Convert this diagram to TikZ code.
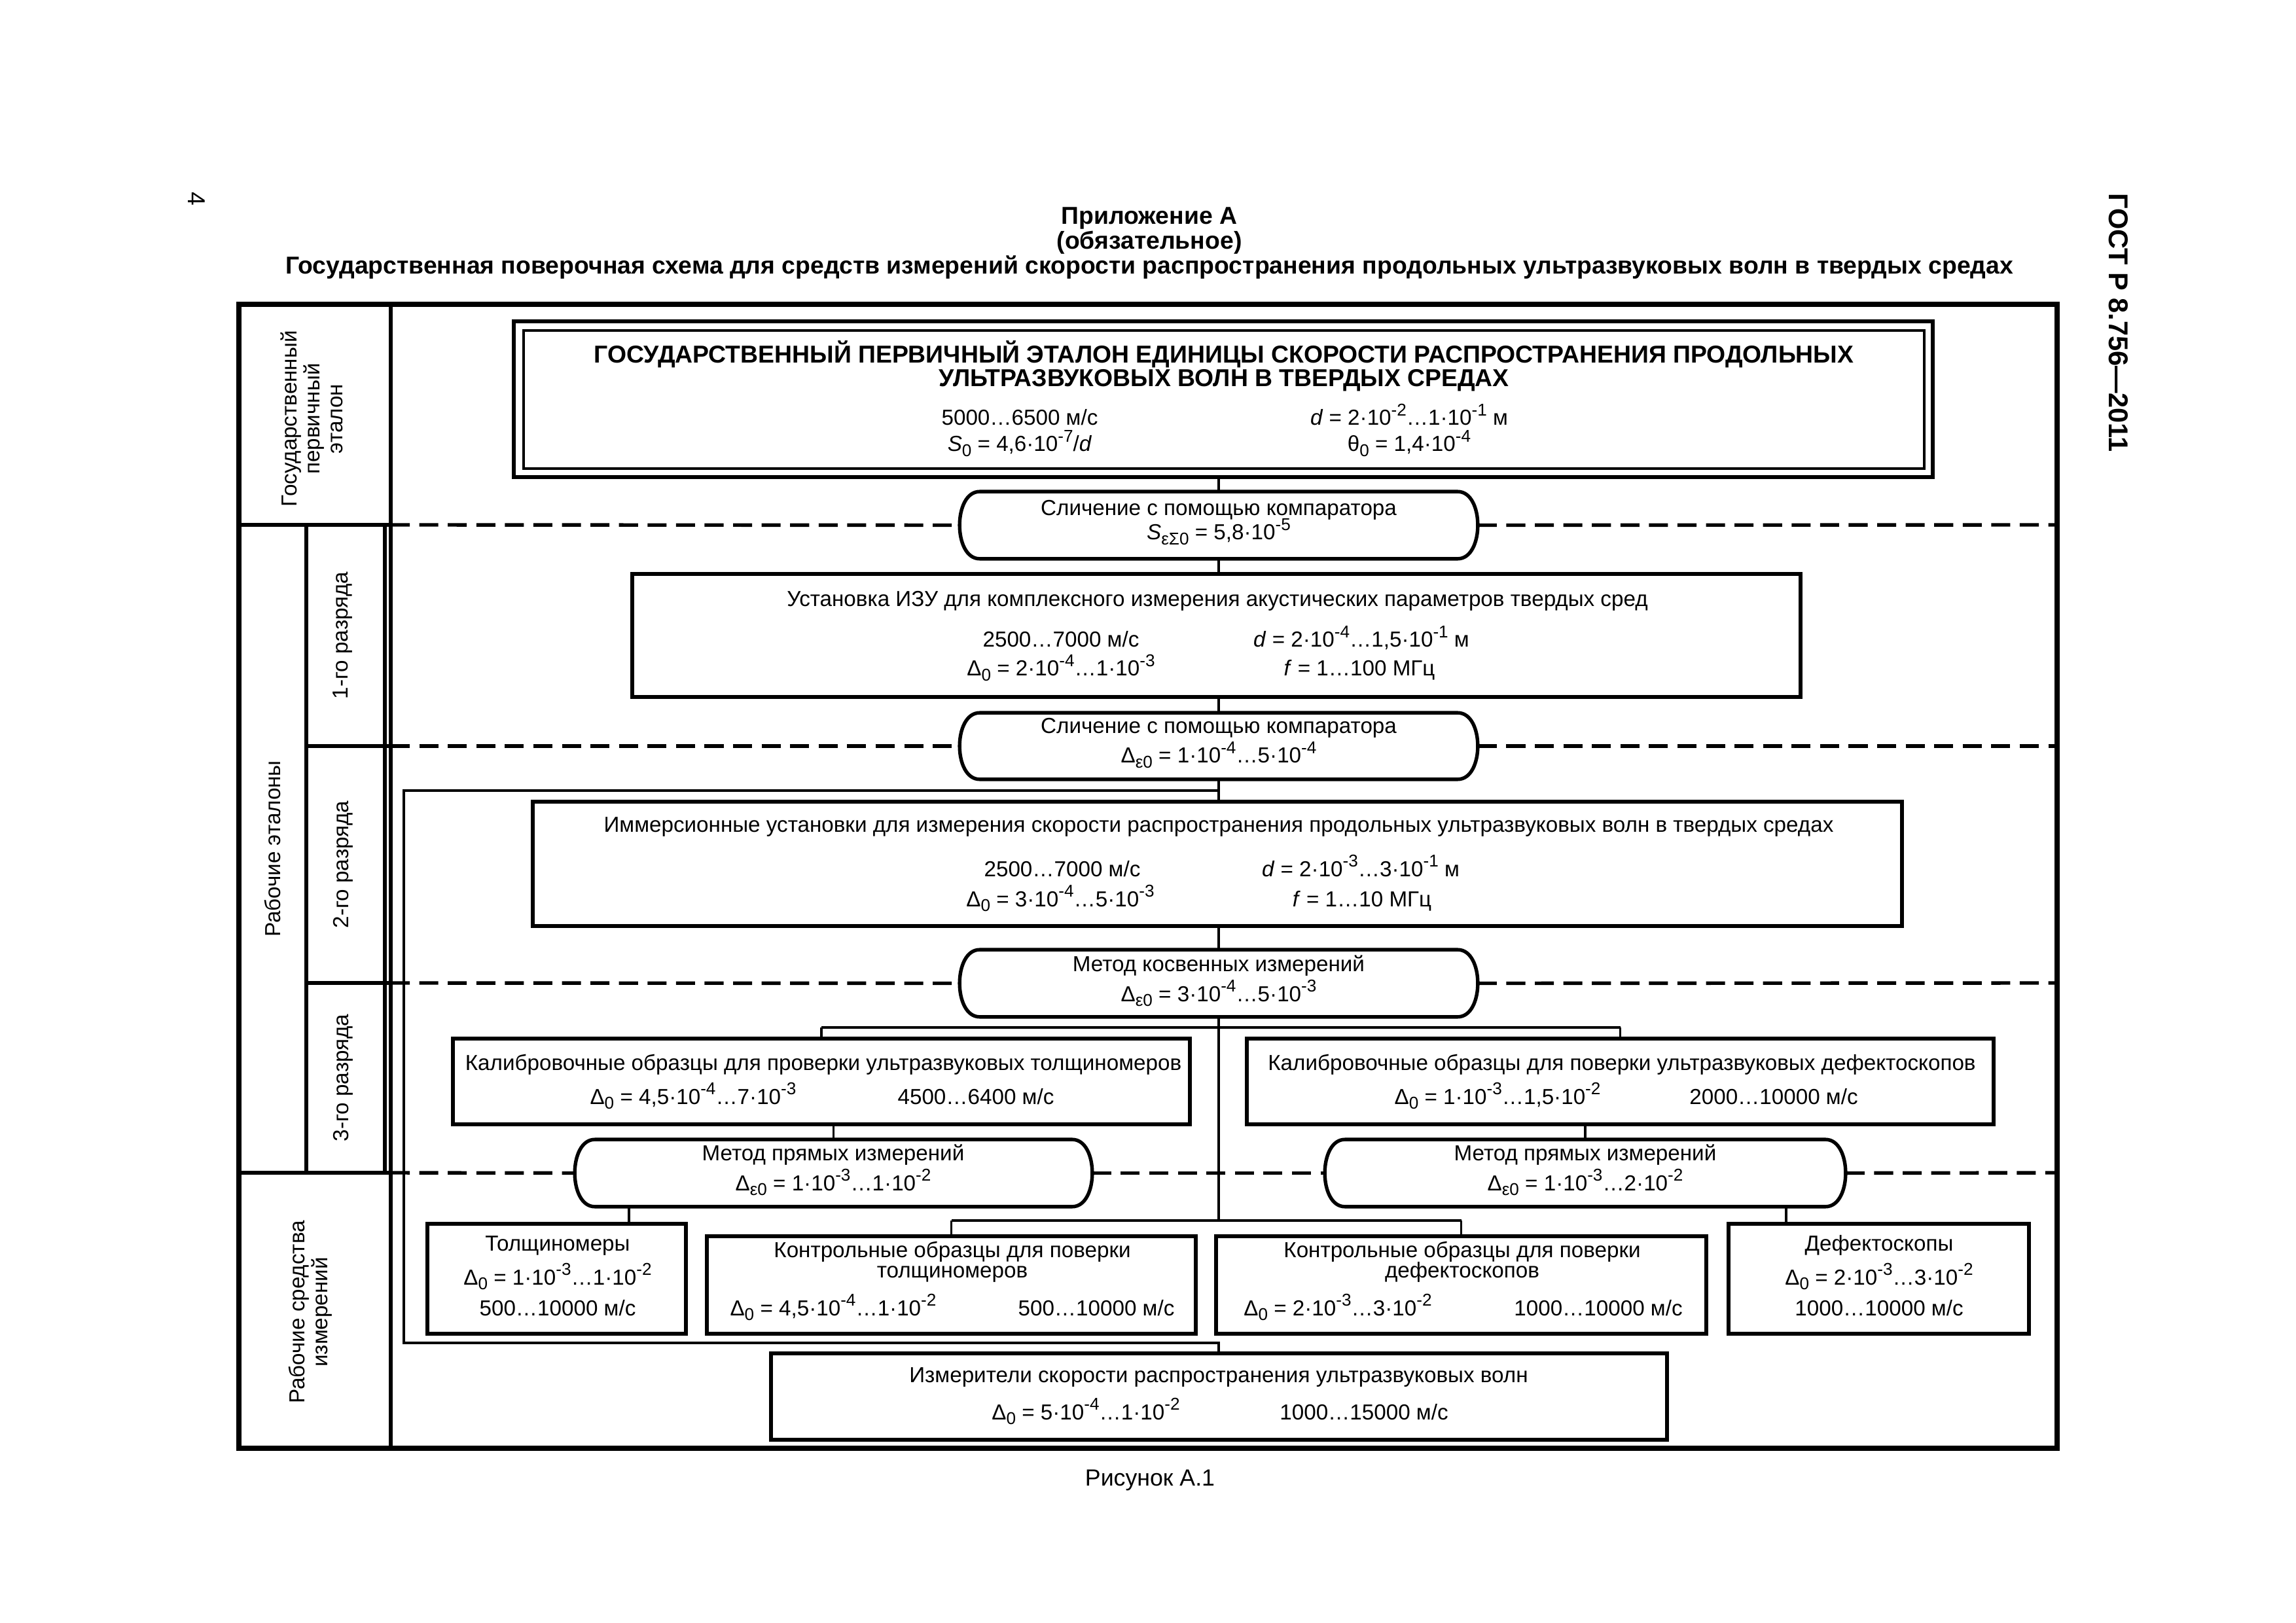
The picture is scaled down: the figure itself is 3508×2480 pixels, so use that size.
\documentclass[tikz,border=0pt]{standalone}
\usepackage{fontspec}
\setmainfont{Liberation Sans}
\usetikzlibrary{calc,fit}
\newcommand\myfn{\fontsize{8}{9.6}\selectfont}
\newcommand\myfb{\fontsize{9}{9}\selectfont\bfseries}
\newcommand\mysup[1]{\raisebox{3.4pt}{\fontsize{6.3}{6}\selectfont #1}}
\newcommand\mysub[1]{\raisebox{-1.7pt}{\fontsize{6.3}{6}\selectfont #1}}
\newcommand\capsuleoutline[1]{%
  \draw[boxline] ($(#1.north west)+(0.26cm,0)$) -- ($(#1.north east)+(-0.26cm,0)$)
   .. controls ($(#1.north east)+(0.087cm,0)$) and ($(#1.south east)+(0.087cm,0)$) .. ($(#1.south east)+(-0.26cm,0)$)
   -- ($(#1.south west)+(0.26cm,0)$)
   .. controls ($(#1.south west)+(-0.087cm,0)$) and ($(#1.north west)+(-0.087cm,0)$) .. cycle;}
\begin{document}
\begin{tikzpicture}[x=0.0846636mm, y=-0.0846636mm,
  frameline/.style={line width=1.8pt},
  gridline/.style={line width=1.5pt},
  boxline/.style={line width=1.3pt},
  innerline/.style={line width=1.0pt},
  conn/.style={line width=0.85pt},
  dashline/.style={line width=1.3pt, dash pattern=on 7pt off 3.5pt},
  box/.style={draw, boxline, inner sep=0pt},
  ibox/.style={draw, innerline, inner sep=0pt},
  area/.style={inner sep=0pt},
  t/.style={inner sep=0pt, anchor=base, font=\myfn},
  tb/.style={inner sep=0pt, anchor=base, font=\myfb},
  lbl/.style={inner sep=0pt, font=\fontsize{8}{8.4}\selectfont, align=center, rotate=90},
]
\useasboundingbox (0,0) rectangle (3508,2480);

% header
\node[tb] (h1) at (1756,343) {Приложение А};
\node[tb] (h2) at (1756,381) {(обязательное)};
\node[tb] (h3) at (1756,419) {Государственная поверочная схема для средств измерений скорости распространения продольных ультразвуковых волн в твердых средах};
\node[inner sep=0pt, font=\fontsize{9}{9}\selectfont, rotate=-90] (pg) at (300,304) {4};
\node[inner sep=0pt, font=\fontsize{10}{10}\selectfont\bfseries, rotate=-90] (gost) at (3237,493) {ГОСТ Р 8.756—2011};
\node[inner sep=0pt, anchor=base, font=\fontsize{8.6}{9}\selectfont] (fig) at (1757,2270) {Рисунок А.1};

% frame and left column
\draw[frameline] (365,465) rectangle (3143,2213);
\draw[gridline] (597,465) -- (597,2213);
\draw[gridline] (365,802) -- (597,802);
\draw[gridline] (365,1792) -- (597,1792);
\draw[gridline] (468,802) -- (468,1792);
\draw[gridline] (588,802) -- (588,1792);
\draw[gridline] (468,1140) -- (597,1140);
\draw[gridline] (468,1502) -- (597,1502);

\node[lbl] (lgos) at (476,640) {Государственный\\первичный\\эталон};
\node[lbl] (lrab) at (416,1297) {Рабочие эталоны};
\node[lbl] (l1) at (524,971) {1-го разряда};
\node[lbl] (l2) at (524,1321) {2-го разряда};
\node[lbl] (l3) at (524,1647) {3-го разряда};
\node[lbl] (lsi) at (474,2005) {Рабочие средства\\измерений};

% primary standard
\node[box, fit={(785,491) (2953,729)}] (gpe) {};
\node[ibox, fit={(800,505) (2940,716)}] (gpein) {};
\node[tb] (gpe1) at (1870,555) {ГОСУДАРСТВЕННЫЙ ПЕРВИЧНЫЙ ЭТАЛОН ЕДИНИЦЫ СКОРОСТИ РАСПРОСТРАНЕНИЯ ПРОДОЛЬНЫХ};
\node[tb] (gpe2) at (1870,591) {УЛЬТРАЗВУКОВЫХ ВОЛН В ТВЕРДЫХ СРЕДАХ};
\node[t] (gpe3) at (1558,650) {5000…6500 м/с};
\node[t] (gpe4) at (2153,650) {\textit{d} = 2·10\mysup{-2}…1·10\mysup{-1} м};
\node[t] (gpe5) at (1558,690) {\textit{S}\mysub{0} = 4,6·10\mysup{-7}/\textit{d}};
\node[t] (gpe6) at (2153,690) {θ\mysub{0} = 1,4·10\mysup{-4}};

% comparator 1
\node[area, fit={(1467,752) (2257,853)}] (c1) {};
\capsuleoutline{c1}
\node[t] (c1a) at (1862,788) {Сличение с помощью компаратора};
\node[t] (c1b) at (1862,825) {\textit{S}\mysub{εΣ0} = 5,8·10\mysup{-5}};

% 1st rank
\node[box, fit={(966,877) (2751,1065)}] (b2) {};
\node[t] (b2a) at (1860,927) {Установка ИЗУ для комплексного измерения акустических параметров твердых сред};
\node[t] (b2b) at (1621,989) {2500…7000 м/с};
\node[t] (b2c) at (2080,989) {\textit{d} = 2·10\mysup{-4}…1,5·10\mysup{-1} м};
\node[t] (b2d) at (1621,1033) {Δ\mysub{0} = 2·10\mysup{-4}…1·10\mysup{-3}};
\node[t] (b2e) at (2077,1033) {\textit{f} = 1…100 МГц};

% comparator 2
\node[area, fit={(1467,1090) (2257,1190)}] (c2) {};
\capsuleoutline{c2}
\node[t] (c2a) at (1862,1121) {Сличение с помощью компаратора};
\node[t] (c2b) at (1862,1166) {Δ\mysub{ε0} = 1·10\mysup{-4}…5·10\mysup{-4}};

% 2nd rank
\node[box, fit={(814,1225) (2906,1415)}] (b3) {};
\node[t] (b3a) at (1862,1272) {Иммерсионные установки для измерения скорости распространения продольных ультразвуковых волн в твердых средах};
\node[t] (b3b) at (1623,1339) {2500…7000 м/с};
\node[t] (b3c) at (2079,1339) {\textit{d} = 2·10\mysup{-3}…3·10\mysup{-1} м};
\node[t] (b3d) at (1620,1385) {Δ\mysub{0} = 3·10\mysup{-4}…5·10\mysup{-3}};
\node[t] (b3e) at (2081,1385) {\textit{f} = 1…10 МГц};

% indirect method
\node[area, fit={(1467,1452) (2257,1553)}] (m1) {};
\capsuleoutline{m1}
\node[t] (m1a) at (1862,1484) {Метод косвенных измерений};
\node[t] (m1b) at (1862,1530) {Δ\mysub{ε0} = 3·10\mysup{-4}…5·10\mysup{-3}};

% 3rd rank
\node[box, fit={(692,1587) (1818,1718)}] (b4L) {};
\node[t] (b4La) at (1258,1635) {Калибровочные образцы для проверки ультразвуковых толщиномеров};
\node[t] (b4Lb) at (1059,1687) {Δ\mysub{0} = 4,5·10\mysup{-4}…7·10\mysup{-3}};
\node[t] (b4Lc) at (1491,1687) {4500…6400 м/с};
\node[box, fit={(1905,1587) (3046,1718)}] (b4R) {};
\node[t] (b4Ra) at (2478,1635) {Калибровочные образцы для поверки ультразвуковых дефектоскопов};
\node[t] (b4Rb) at (2288,1687) {Δ\mysub{0} = 1·10\mysup{-3}…1,5·10\mysup{-2}};
\node[t] (b4Rc) at (2710,1687) {2000…10000 м/с};

% direct methods
\node[area, fit={(879,1742) (1668,1843)}] (m2L) {};
\capsuleoutline{m2L}
\node[t] (m2La) at (1273,1773) {Метод прямых измерений};
\node[t] (m2Lb) at (1273,1819) {Δ\mysub{ε0} = 1·10\mysup{-3}…1·10\mysup{-2}};
\node[area, fit={(2025,1742) (2819,1843)}] (m2R) {};
\capsuleoutline{m2R}
\node[t] (m2Ra) at (2422,1773) {Метод прямых измерений};
\node[t] (m2Rb) at (2422,1819) {Δ\mysub{ε0} = 1·10\mysup{-3}…2·10\mysup{-2}};

% working instruments
\node[box, fit={(653,1870) (1048,2038)}] (tol) {};
\node[t] (tola) at (852,1911) {Толщиномеры};
\node[t] (tolb) at (852,1963) {Δ\mysub{0} = 1·10\mysup{-3}…1·10\mysup{-2}};
\node[t] (tolc) at (852,2010) {500…10000 м/с};

\node[box, fit={(1080,1889) (1827,2038)}] (kL) {};
\node[t] (kLa) at (1455,1921) {Контрольные образцы для поверки};
\node[t] (kLb) at (1455,1952) {толщиномеров};
\node[t] (kLc) at (1273,2010) {Δ\mysub{0} = 4,5·10\mysup{-4}…1·10\mysup{-2}};
\node[t] (kLd) at (1675,2010) {500…10000 м/с};

\node[box, fit={(1858,1889) (2607,2038)}] (kR) {};
\node[t] (kRa) at (2234,1921) {Контрольные образцы для поверки};
\node[t] (kRb) at (2234,1952) {дефектоскопов};
\node[t] (kRc) at (2044,2010) {Δ\mysub{0} = 2·10\mysup{-3}…3·10\mysup{-2}};
\node[t] (kRd) at (2442,2010) {1000…10000 м/с};

\node[box, fit={(2641,1870) (3100,2038)}] (def) {};
\node[t] (defa) at (2871,1911) {Дефектоскопы};
\node[t] (defb) at (2871,1963) {Δ\mysub{0} = 2·10\mysup{-3}…3·10\mysup{-2}};
\node[t] (defc) at (2871,2010) {1000…10000 м/с};

\node[box, fit={(1178,2068) (2547,2200)}] (izm) {};
\node[t] (izma) at (1862,2112) {Измерители скорости распространения ультразвуковых волн};
\node[t] (izmb) at (1659,2169) {Δ\mysub{0} = 5·10\mysup{-4}…1·10\mysup{-2}};
\node[t] (izmc) at (2084,2169) {1000…15000 м/с};

% dashed separators
\draw[dashline] (597,802) -- (c1.west);
\draw[dashline] (c1.east) -- (3143,802);
\draw[dashline] (597,1140) -- (c2.west);
\draw[dashline] (c2.east) -- (3143,1140);
\draw[dashline] (597,1502) -- (m1.west);
\draw[dashline] (m1.east) -- (3143,1502);
\draw[dashline] (597,1792) -- (m2L.west);
\draw[dashline] (m2L.east) -- (m2R.west);
\draw[dashline] (m2R.east) -- (3143,1792);

% connectors
\draw[conn] (c1.north |- gpe.south) -- (c1.north);
\draw[conn] (c1.south) -- (c1.south |- b2.north);
\draw[conn] (c2.north |- b2.south) -- (c2.north);
\draw[conn] (c2.south) -- (c2.south |- b3.north);
\coordinate (br1) at (617,1208);
\coordinate (br2) at (617,2052);
\draw[conn] (c2.south |- br1) -- (br1) -- (br2) -- (br2 -| c2.south) -- (c2.south |- izm.north);
\draw[conn] (m1.north |- b3.south) -- (m1.north);
\coordinate (j1) at (1862,1570);
\coordinate (j2) at (1862,1865);
\draw[conn] (m1.south) -- (j2);
\draw[conn] (b4L.north |- j1) -- (b4R.north |- j1);
\draw[conn] (b4L.north |- j1) -- (b4L.north);
\draw[conn] (b4R.north |- j1) -- (b4R.north);
\draw[conn] (m2L.north |- b4L.south) -- (m2L.north);
\draw[conn] (m2R.north |- b4R.south) -- (m2R.north);
\coordinate (t1) at (961,1843);
\draw[conn] (t1) -- (t1 |- tol.north);
\coordinate (t2) at (2729,1843);
\draw[conn] (t2) -- (t2 |- def.north);
\draw[conn] (kL.north |- j2) -- (kR.north |- j2);
\draw[conn] (kL.north |- j2) -- (kL.north);
\draw[conn] (kR.north |- j2) -- (kR.north);
\end{tikzpicture}
\end{document}
